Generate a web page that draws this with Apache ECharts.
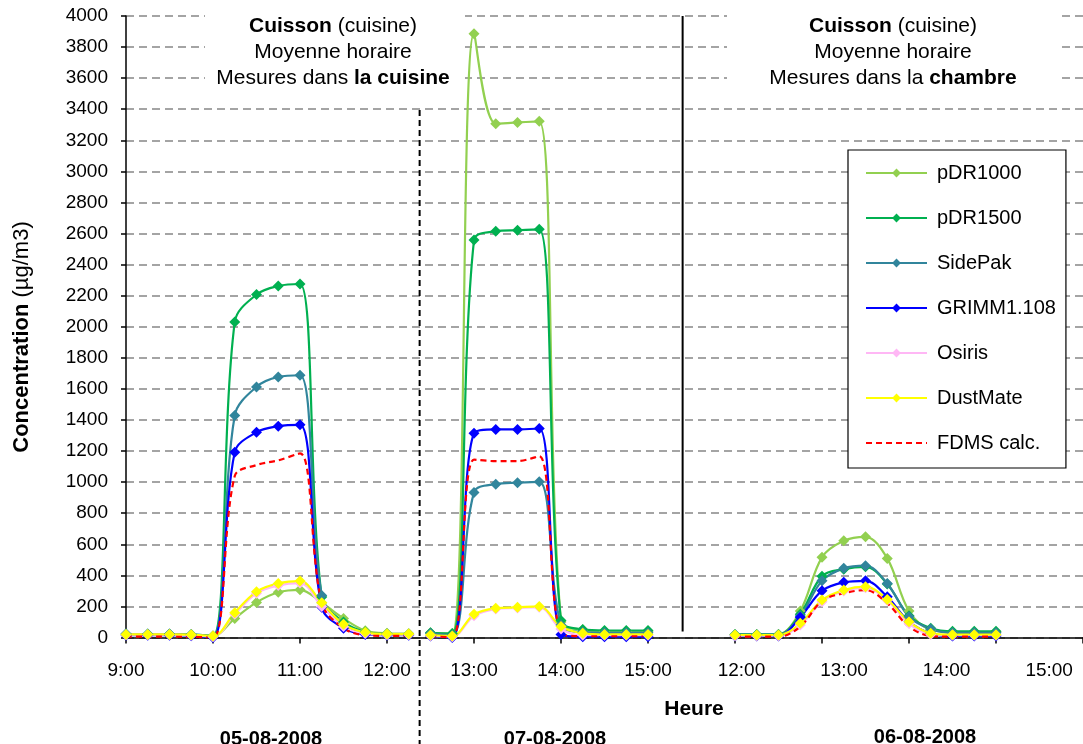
<!DOCTYPE html>
<html>
<head>
<meta charset="utf-8">
<script src="https://cdn.jsdelivr.net/npm/echarts@6/dist/echarts.min.js"></script>
<style>
  html, body { margin: 0; padding: 0; background: #ffffff; }
  #chart { width: 1083px; height: 744px; }
</style>
</head>
<body>
<div id="chart"></div>
<script>
// Quarter-hour time slots of each measurement day
const seg1Times = ['9:00', '9:15', '9:30', '9:45', '10:00', '10:15', '10:30', '10:45', '11:00', '11:15', '11:30', '11:45', '12:00', '12:15'];
const seg2Times = ['12:30', '12:45', '13:00', '13:15', '13:30', '13:45', '14:00', '14:15', '14:30', '14:45', '15:00'];
const gapSlots = ['', '', ''];
const seg3Times = ['12:00', '12:15', '12:30', '12:45', '13:00', '13:15', '13:30', '13:45', '14:00', '14:15', '14:30', '14:45', '15:00'];
const tailSlots = ['', '', '', ''];

// Hour labels of the bedroom day (third block)
const seg3HourLabels = ['12:00', '13:00', '14:00', '15:00'];

// Day captions and annotation texts
const dayLabels = ['05-08-2008', '07-08-2008', '06-08-2008'];
const xTitle = 'Heure';
const yTitle = '{b|Concentration} (µg/m3)';
const noteKitchen = '{b|Cuisson} (cuisine)\nMoyenne horaire\nMesures dans {b|la cuisine}';
const noteBedroom = '{b|Cuisson} (cuisine)\nMoyenne horaire\nMesures dans la {b|chambre}';

const instruments = ['pDR1000', 'pDR1500', 'SidePak', 'GRIMM1.108', 'Osiris', 'DustMate', 'FDMS calc.'];

// Hourly-mean concentrations (µg/m3), day 1: 05-08-2008, kitchen
const d1_pDR1000  = [20, 20, 20, 18, 10, 123, 226, 291, 307, 224, 123, 44, 27, 25];
const d1_pDR1500  = [22, 22, 22, 20, 10, 2031, 2207, 2262, 2275, 260, 100, 35, 22, 20];
const d1_SidePak  = [24, 22, 22, 20, 8, 1429, 1613, 1677, 1688, 270, 85, 30, 22, 20];
const d1_GRIMM    = [15, 15, 15, 12, 0, 1193, 1321, 1360, 1369, 195, 60, 20, 15, 15];
const d1_Osiris   = [18, 18, 18, 15, 5, 150, 285, 335, 350, 200, 70, 25, 18, 18];
const d1_DustMate = [20, 20, 20, 18, 10, 160, 295, 348, 363, 224, 85, 33, 22, 22];
const d1_FDMS     = [5, 5, 5, 4, 0, 1040, 1110, 1140, 1185, 222, 60, 15, 10, 10];

// Day 2: 07-08-2008, kitchen
const d2_pDR1000  = [30, 25, 3885, 3307, 3315, 3322, 100, 50, 40, 40, 40];
const d2_pDR1500  = [30, 25, 2558, 2614, 2621, 2627, 110, 52, 45, 45, 45];
const d2_SidePak  = [25, 15, 934, 987, 996, 1002, 80, 35, 30, 30, 30];
const d2_GRIMM    = [10, 0, 1315, 1339, 1339, 1345, 20, 5, 5, 5, 5];
const d2_Osiris   = [12, 5, 140, 183, 190, 195, 55, 15, 15, 15, 15];
const d2_DustMate = [16, 10, 149, 188, 194, 200, 70, 27, 20, 20, 20];
const d2_FDMS     = [10, 0, 1145, 1135, 1135, 1167, 30, 8, 8, 8, 8];

// Day 3: 06-08-2008, bedroom
const d3_pDR1000  = [18, 18, 20, 170, 516, 622, 648, 509, 170, 50, 35, 35, 35];
const d3_pDR1500  = [20, 20, 20, 150, 395, 440, 455, 345, 140, 60, 40, 40, 40];
const d3_SidePak  = [18, 18, 18, 138, 365, 445, 462, 348, 134, 55, 30, 30, 30];
const d3_GRIMM    = [10, 10, 10, 130, 301, 355, 365, 262, 102, 25, 10, 10, 10];
const d3_Osiris   = [12, 12, 12, 80, 230, 300, 320, 240, 90, 20, 15, 15, 15];
const d3_DustMate = [16, 16, 16, 91, 241, 305, 327, 245, 102, 27, 18, 18, 18];
const d3_FDMS     = [5, 5, 5, 70, 235, 285, 305, 220, 70, 10, 5, 5, 5];

const day1 = [d1_pDR1000, d1_pDR1500, d1_SidePak, d1_GRIMM, d1_Osiris, d1_DustMate, d1_FDMS];
const day2 = [d2_pDR1000, d2_pDR1500, d2_SidePak, d2_GRIMM, d2_Osiris, d2_DustMate, d2_FDMS];
const day3 = [d3_pDR1000, d3_pDR1500, d3_SidePak, d3_GRIMM, d3_Osiris, d3_DustMate, d3_FDMS];

// ---- styling ----
const FONT = '"Liberation Sans", Arial, Helvetica, sans-serif';
const colors = ['#92D050', '#00B050', '#31859C', '#0000FF', '#FFB7F5', '#FFFF00', '#FF0000'];

const categories = seg1Times.concat(seg2Times, gapSlots, seg3Times, tailSlots);
const offsets = [0, seg1Times.length, seg1Times.length + seg2Times.length + gapSlots.length];

function padded(offset, values) {
  return new Array(offset).fill(null).concat(values);
}

const series = [];
instruments.forEach((name, k) => {
  [day1, day2, day3].forEach((day, s) => {
    const isFdms = k === instruments.length - 1;
    series.push({
      name: name,
      type: 'line',
      data: padded(offsets[s], day[k]),
      smooth: 0.35,
      symbol: isFdms ? 'none' : 'diamond',
      symbolSize: 11,
      showSymbol: !isFdms,
      showAllSymbol: true,
      lineStyle: { color: colors[k], width: 2.2, type: isFdms ? [6, 4] : 'solid' },
      itemStyle: { color: colors[k] },
      emphasis: { disabled: true },
      silent: true
    });
  });
});

// legend entries: the computed FDMS series is shown as a bare dashed line
const legendData = instruments.map((name, k) =>
  k === instruments.length - 1 ? { name: name, itemStyle: { opacity: 0 } } : { name: name });

const chart = echarts.init(document.getElementById('chart'), null, { renderer: 'canvas' });

const textBase = { fontFamily: FONT, fill: '#000000' };

chart.setOption({
  animation: false,
  backgroundColor: '#ffffff',
  textStyle: { fontFamily: FONT },
  grid: { left: 126, top: 16, width: 960, height: 621.5, containLabel: false },
  legend: {
    data: legendData,
    orient: 'vertical',
    left: 848,
    top: 150,
    padding: [13, 10, 15, 17],
    itemGap: 25,
    itemWidth: 61,
    itemHeight: 11,
    backgroundColor: '#ffffff',
    borderColor: '#000000',
    borderWidth: 1.2,
    textStyle: { fontFamily: FONT, fontSize: 20, color: '#000000', lineHeight: 20, padding: [0, 0, 0, 5] },
    selectedMode: false
  },
  xAxis: [
    {
      type: 'category',
      data: categories,
      boundaryGap: false,
      axisLine: { lineStyle: { color: '#000000', width: 1.5 } },
      axisTick: {
        show: true,
        length: 6,
        interval: (i) => i % 4 === 0,
        lineStyle: { color: '#000000', width: 1.5 }
      },
      axisLabel: {
        interval: (i) => i % 4 === 0 && i < seg1Times.length + seg2Times.length,
        fontFamily: FONT,
        fontSize: 19,
        color: '#000000',
        margin: 24
      },
      splitLine: { show: false }
    },
    {
      type: 'value',
      position: 'bottom',
      min: 6,
      max: 15.33,
      interval: 1,
      axisLine: { show: false },
      axisTick: { show: false },
      splitLine: { show: false },
      axisLabel: {
        fontFamily: FONT,
        fontSize: 19,
        color: '#000000',
        margin: 24,
        showMaxLabel: false,
        formatter: (v) => {
          const idx = Math.round(v) - 12;
          return (Math.abs(v - Math.round(v)) < 1e-6 && idx >= 0 && idx < seg3HourLabels.length) ? seg3HourLabels[idx] : '';
        }
      }
    }
  ],
  yAxis: {
    type: 'value',
    min: 0,
    max: 4000,
    interval: 200,
    axisLine: { show: true, lineStyle: { color: '#000000', width: 1.5 } },
    axisTick: { show: true, length: 5, lineStyle: { color: '#000000', width: 1.5 } },
    axisLabel: { fontFamily: FONT, fontSize: 19, color: '#000000', margin: 18, formatter: (v) => String(v) },
    splitLine: { show: true, lineStyle: { color: '#868686', width: 1.5, type: [8, 5] } }
  },
  series: series
});

// Separators between the measurement days, placed from the category scale
const px = (i) => chart.convertToPixel({ xAxisIndex: 0 }, i);
const yTop = chart.convertToPixel({ yAxisIndex: 0 }, 4000);
const yZero = chart.convertToPixel({ yAxisIndex: 0 }, 0);
const sep1 = (px(seg1Times.length - 1) + px(seg1Times.length)) / 2;
const lastDay2 = seg1Times.length + seg2Times.length - 1;
const sep2 = (px(lastDay2 + 1) + px(lastDay2 + 2)) / 2 + 2;

const noteRich = {
  b: { fontFamily: FONT, fontSize: 21, fontWeight: 'bold', lineHeight: 26, fill: '#000000' }
};

function centeredText(x, y, text, extra) {
  return {
    type: 'text', z: 5, silent: true, x: x, y: y,
    style: Object.assign({}, textBase, {
      text: text,
      align: 'center', verticalAlign: 'middle', textAlign: 'center', textVerticalAlign: 'middle'
    }, extra)
  };
}

chart.setOption({
  graphic: [
    // white boxes behind the annotations
    { type: 'rect', z: 1, silent: true, shape: { x: 205, y: 0, width: 260, height: 96 }, style: { fill: '#ffffff' } },
    { type: 'rect', z: 1, silent: true, shape: { x: 727, y: 0, width: 331, height: 96 }, style: { fill: '#ffffff' } },
    {
      type: 'text', z: 5, silent: true, x: 333, y: 13,
      style: Object.assign({}, textBase, {
        text: noteKitchen, fontSize: 21, lineHeight: 26,
        align: 'center', verticalAlign: 'top', textAlign: 'center', textVerticalAlign: 'top',
        rich: noteRich
      })
    },
    {
      type: 'text', z: 5, silent: true, x: 893, y: 13,
      style: Object.assign({}, textBase, {
        text: noteBedroom, fontSize: 21, lineHeight: 26,
        align: 'center', verticalAlign: 'top', textAlign: 'center', textVerticalAlign: 'top',
        rich: noteRich
      })
    },
    // day separators
    {
      type: 'line', z: 3, silent: true,
      shape: { x1: sep1, y1: 110, x2: sep1, y2: 744 },
      style: { stroke: '#000000', lineWidth: 2, lineDash: [6, 4] }
    },
    {
      type: 'line', z: 3, silent: true,
      shape: { x1: sep2, y1: yTop, x2: sep2, y2: yZero - 6 },
      style: { stroke: '#000000', lineWidth: 2 }
    },
    // axis titles
    {
      type: 'text', z: 5, silent: true, x: 22, y: 337, rotation: Math.PI / 2,
      style: Object.assign({}, textBase, {
        text: yTitle, fontSize: 22,
        align: 'center', verticalAlign: 'middle', textAlign: 'center', textVerticalAlign: 'middle',
        rich: { b: { fontFamily: FONT, fontSize: 22, fontWeight: 'bold', fill: '#000000' } }
      })
    },
    centeredText(694, 709, xTitle, { fontSize: 21, fontWeight: 'bold' }),
    // day captions
    centeredText(271, 739, dayLabels[0], { fontSize: 20, fontWeight: 'bold' }),
    centeredText(555, 739, dayLabels[1], { fontSize: 20, fontWeight: 'bold' }),
    centeredText(925, 737, dayLabels[2], { fontSize: 20, fontWeight: 'bold' })
  ]
});
</script>
</body>
</html>
